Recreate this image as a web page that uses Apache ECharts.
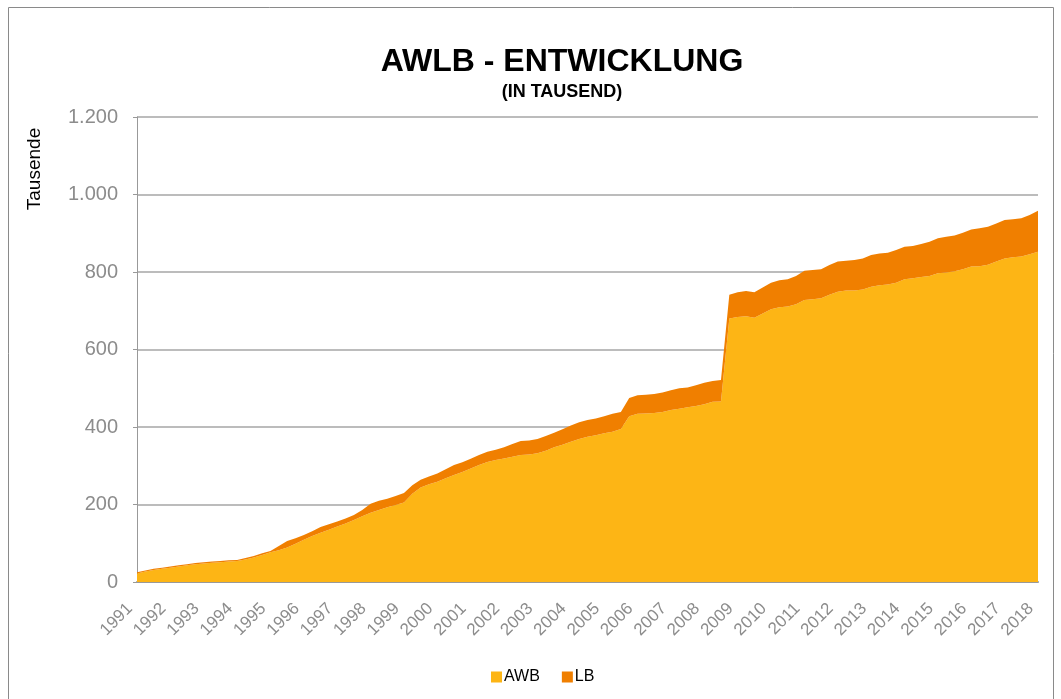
<!DOCTYPE html>
<html>
<head>
<meta charset="utf-8">
<script src="https://cdn.jsdelivr.net/npm/echarts@6/dist/echarts.min.js"></script>
<style>
  html, body { margin: 0; padding: 0; background: #fff; }
  #chart { width: 1061px; height: 699px; }
</style>
</head>
<body>
<div id="chart"></div>
<script>
// Jahre (Achsenbeschriftung), Daten pro Quartal
const years = [1991, 1992, 1993, 1994, 1995, 1996, 1997, 1998, 1999, 2000,
  2001, 2002, 2003, 2004, 2005, 2006, 2007, 2008, 2009, 2010,
  2011, 2012, 2013, 2014, 2015, 2016, 2017, 2018]

// AWB in Tausend, quartalsweise ab 1991
const awb = [
  22, 27, 31, 34, 37, 40, 43, 46, 48, 50, 51, 53,
  54, 58, 63, 70, 77, 82, 89, 99, 109, 119, 127, 135,
  143, 151, 160, 170, 179, 186, 193, 199, 205, 228, 244, 252,
  259, 268, 276, 284, 293, 302, 310, 315, 319, 323, 328, 329,
  332, 339, 348, 354, 362, 369, 375, 379, 384, 388, 395, 428,
  434, 435, 436, 439, 444, 447, 451, 454, 459, 465, 466, 680,
  684, 686, 682, 693, 704, 709, 711, 717, 728, 730, 732, 741,
  749, 752, 752, 755, 762, 766, 768, 772, 781, 784, 787, 790,
  797, 799, 802, 807, 814, 815, 819, 827, 835, 838, 840, 846,
  852
]

// LB in Tausend, quartalsweise ab 1991
const lb = [
  3, 3, 3, 3, 3, 3, 3, 3, 3, 3, 3, 3,
  3, 4, 4, 4, 3, 11, 17, 14, 12, 12, 15, 14,
  13, 13, 13, 16, 23, 24, 22, 23, 25, 22, 20, 20,
  21, 23, 26, 25, 25, 26, 26, 26, 29, 33, 36, 36,
  37, 38, 37, 40, 42, 43, 43, 43, 44, 46, 44, 47,
  48, 48, 49, 50, 51, 53, 51, 54, 55, 54, 55, 61,
  64, 65, 66, 67, 68, 70, 70, 73, 75, 75, 75, 77,
  78, 77, 79, 80, 82, 82, 82, 85, 84, 83, 85, 88,
  90, 92, 92, 94, 96, 98, 98, 98, 99, 98, 99, 101,
  106
]

// Kategorien: Q1..Q4 je Jahr, letztes Jahr nur Q1
const categories = []
years.forEach((y, idx) => {
  const n = idx === years.length - 1 ? 1 : 4
  for (let q = 1; q <= n; q++) categories.push(q === 1 ? String(y) : y + ' Q' + q)
})

const chart = echarts.init(document.getElementById('chart'))
const font = 'Liberation Sans, Arial, sans-serif'

const option = {
  animation: false,
  backgroundColor: '#fff',
  title: {
    text: 'AWLB - ENTWICKLUNG',
    subtext: '(IN TAUSEND)',
    left: 557,
    top: 41,
    textAlign: 'center',
    itemGap: 5,
    textStyle: { fontFamily: font, fontSize: 32, fontWeight: 'bold', color: '#000' },
    subtextStyle: { fontFamily: font, fontSize: 18, fontWeight: 'bold', color: '#000' }
  },
  legend: {
    top: 664,
    left: 486,
    itemWidth: 11,
    itemHeight: 11,
    itemGap: 22,
    icon: 'rect',
    textStyle: { fontFamily: font, fontSize: 16, color: '#000', padding: [0, 0, 0, -3] },
    data: ['AWB', 'LB']
  },
  grid: { left: 137, right: 23, top: 117, bottom: 117 },
  xAxis: {
    type: 'category',
    boundaryGap: false,
    data: categories,
    axisLine: { lineStyle: { color: '#999', width: 2 } },
    axisTick: { show: false },
    axisLabel: {
      interval: 3,
      rotate: 45,
      margin: 17,
      padding: [0, 10, 0, 0],
      color: '#8c8c8c',
      fontFamily: font,
      fontSize: 17,
      formatter: (v) => v.slice(0, 4)
    }
  },
  yAxis: {
    type: 'value',
    min: 0,
    max: 1200,
    interval: 200,
    axisLine: { show: true, lineStyle: { color: '#999', width: 1 } },
    axisTick: { show: true, length: 4, lineStyle: { color: '#999' } },
    splitLine: { lineStyle: { color: '#a6a6a6', width: 1.5 } },
    axisLabel: {
      margin: 19,
      color: '#8c8c8c',
      fontFamily: font,
      fontSize: 20,
      formatter: (v) => v >= 1000 ? Math.floor(v / 1000) + '.' + String(v % 1000).padStart(3, '0') : String(v)
    }
  },
  graphic: [
    {
      type: 'rect',
      shape: { x: 8.5, y: 7.5, width: 1045, height: 720 },
      style: { fill: 'none', stroke: '#8a8a8a', lineWidth: 1 },
      silent: true
    },
    {
      type: 'text',
      x: 35,
      y: 169,
      rotation: Math.PI / 2,
      style: {
        text: 'Tausende',
        fontFamily: font,
        fontSize: 19,
        fill: '#000',
        textAlign: 'center',
        textVerticalAlign: 'middle'
      }
    }
  ],
  series: [
    {
      name: 'AWB',
      type: 'line',
      stack: 'total',
      data: awb,
      showSymbol: false,
      lineStyle: { width: 0 },
      itemStyle: { color: '#FDB515' },
      areaStyle: { color: '#FDB515', opacity: 1 }
    },
    {
      name: 'LB',
      type: 'line',
      stack: 'total',
      data: lb,
      showSymbol: false,
      lineStyle: { width: 0 },
      itemStyle: { color: '#F07F00' },
      areaStyle: { color: '#F07F00', opacity: 1 }
    }
  ]
}

chart.setOption(option)
</script>
</body>
</html>
